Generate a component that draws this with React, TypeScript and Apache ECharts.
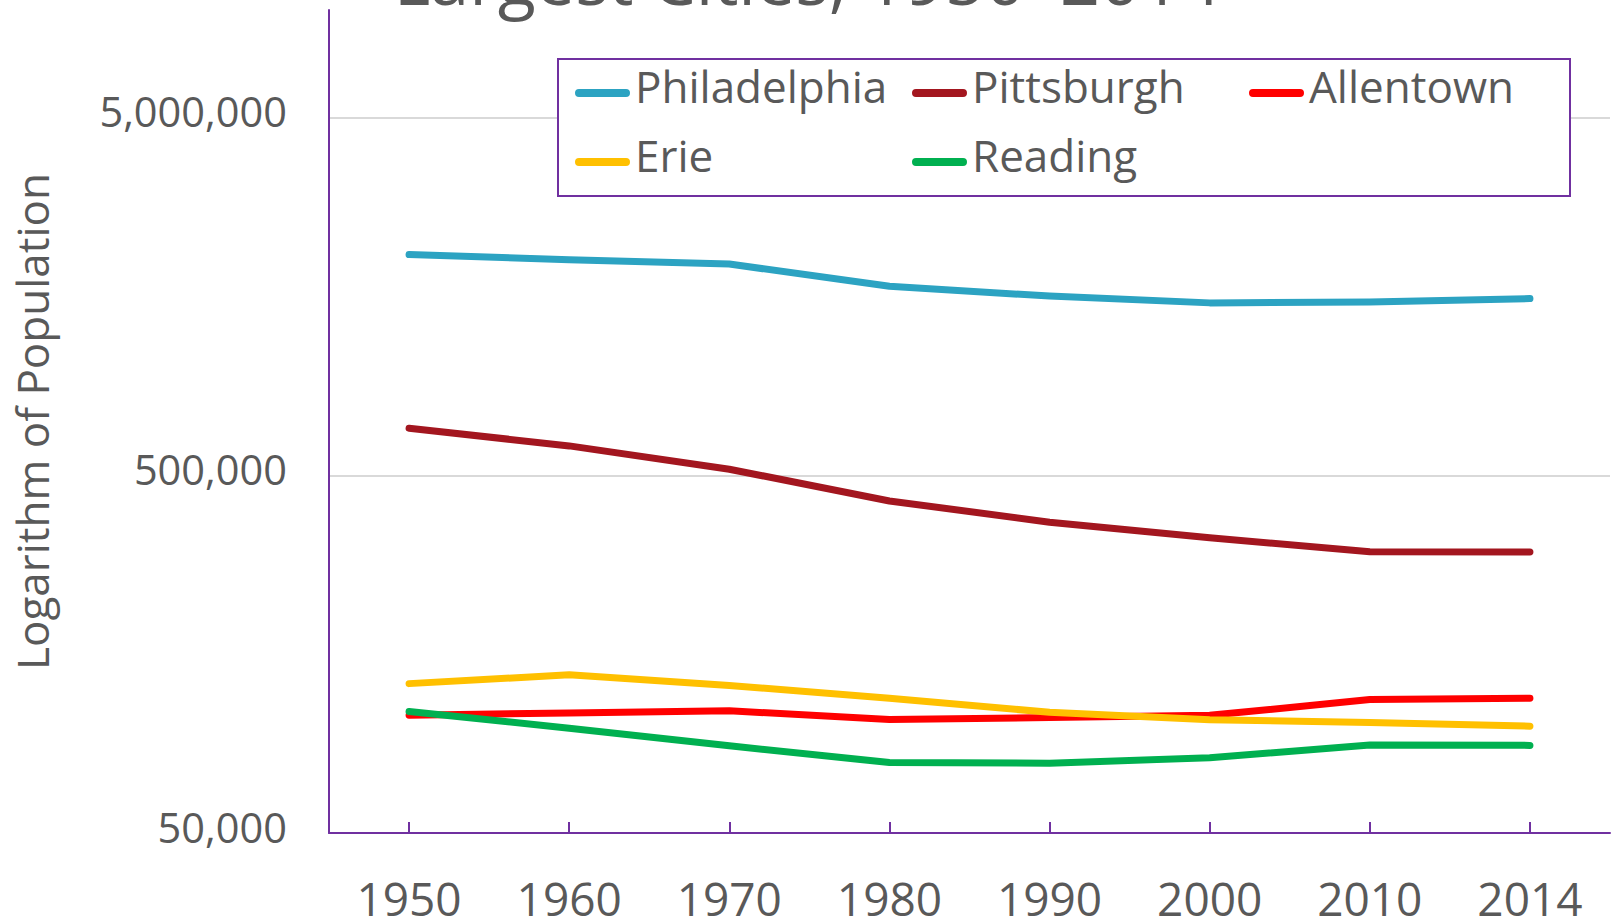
import React, { useEffect, useRef } from 'react';
import * as echarts from 'echarts';

const years = ['1950', '1960', '1970', '1980', '1990', '2000', '2010', '2014'];
const philadelphia = [2071605, 2002512, 1948609, 1688210, 1585577, 1517550, 1526006, 1560297];
const pittsburgh = [676806, 604332, 520117, 423938, 369879, 334563, 305704, 305412];
const allentown = [106756, 108347, 109871, 103758, 105090, 106632, 118032, 119104];
const erie = [130803, 138440, 129231, 119123, 108718, 103717, 101786, 99475];
const reading = [109320, 98177, 87643, 78686, 78380, 81207, 88082, 87893];
const seriesNames = ['Philadelphia', 'Pittsburgh', 'Allentown', 'Erie', 'Reading'];
const seriesColors = ['#2CA3C2', '#A3161F', '#FF0000', '#FFC000', '#00B050'];
const axisMin = 50000;
const axisMax = 10000000;
const titleText = 'Largest Cities, 1950\u20132014';
const yAxisTitle = 'Logarithm of Population';

const FONT = "'Open Sans', 'Noto Sans', sans-serif";
const TEXT = '#595959';
const PURPLE = '#7030A0';

export default function App() {
  const ref = useRef<HTMLDivElement>(null);
  useEffect(() => {
    if (!ref.current) return;
    const chart = echarts.init(ref.current, undefined, { renderer: 'svg' });
    const allData = [philadelphia, pittsburgh, allentown, erie, reading];
    const toLog = (v: number) => Math.log10(v / axisMin);
    chart.setOption({
      animation: false,
      backgroundColor: '#ffffff',
      textStyle: { fontFamily: FONT },
      title: {
        text: titleText,
        left: 'center',
        top: -62,
        textStyle: { fontFamily: FONT, fontSize: 70, fontWeight: 'normal', color: TEXT },
      },
      legend: {
        data: seriesNames,
        left: 558,
        top: 59,
        width: 1000,
        orient: 'horizontal',
        padding: [2, 3, 16, 17],
        itemGap: 19,
        itemWidth: 55,
        itemHeight: 22,
        icon: 'path://M0,0L0.01,0L0.01,0.01Z M4,14L51,14A4,4,0,0,1,51,22L4,22A4,4,0,0,1,4,14Z',
        borderColor: PURPLE,
        borderWidth: 2,
        backgroundColor: '#ffffff',
        itemStyle: { borderWidth: 0 },
        textStyle: {
          fontFamily: FONT,
          fontSize: 44,
          color: TEXT,
          width: 258,
          lineHeight: 50,
        },
      },
      grid: { left: 329, right: 4, top: 10, bottom: 85, containLabel: false, outerBoundsMode: 'none' },
      xAxis: {
        type: 'category',
        data: years,
        boundaryGap: true,
        axisLine: { show: true, lineStyle: { color: PURPLE, width: 2 } },
        axisTick: { show: true, alignWithLabel: true, inside: true, length: 11, lineStyle: { color: PURPLE, width: 2 } },
        axisLabel: { fontFamily: FONT, fontSize: 46, color: TEXT, margin: 42 },
        splitLine: { show: false },
      },
      yAxis: {
        type: 'value',
        min: 0,
        max: Math.log10(axisMax / axisMin),
        interval: 1,
        name: yAxisTitle,
        nameLocation: 'middle',
        nameRotate: 90,
        nameGap: 275,
        nameTextStyle: { fontFamily: FONT, fontSize: 44, color: TEXT },
        axisLine: { show: true, lineStyle: { color: PURPLE, width: 2 } },
        axisTick: { show: false },
        axisLabel: {
          fontFamily: FONT,
          fontSize: 41.5,
          color: TEXT,
          margin: 42,
          verticalAlign: 'bottom',
          lineHeight: 13,
          showMaxLabel: false,
          formatter: (v: number) => Math.round(axisMin * Math.pow(10, v)).toLocaleString('en-US'),
        },
        splitLine: { show: true, showMinLine: false, showMaxLine: false, lineStyle: { color: '#D9D9D9', width: 2 } },
      },
      series: seriesNames.map((name, i) => ({
        name,
        type: 'line',
        data: allData[i].map(toLog),
        symbol: 'none',
        smooth: false,
        color: seriesColors[i],
        lineStyle: { color: seriesColors[i], width: 7, cap: 'round', join: 'round' },
        z: 2 + i,
      })),
    });
    return () => chart.dispose();
  }, []);
  return <div ref={ref} style={{ position: 'fixed', left: 0, top: 0, width: 1614, height: 918 }} />;
}
